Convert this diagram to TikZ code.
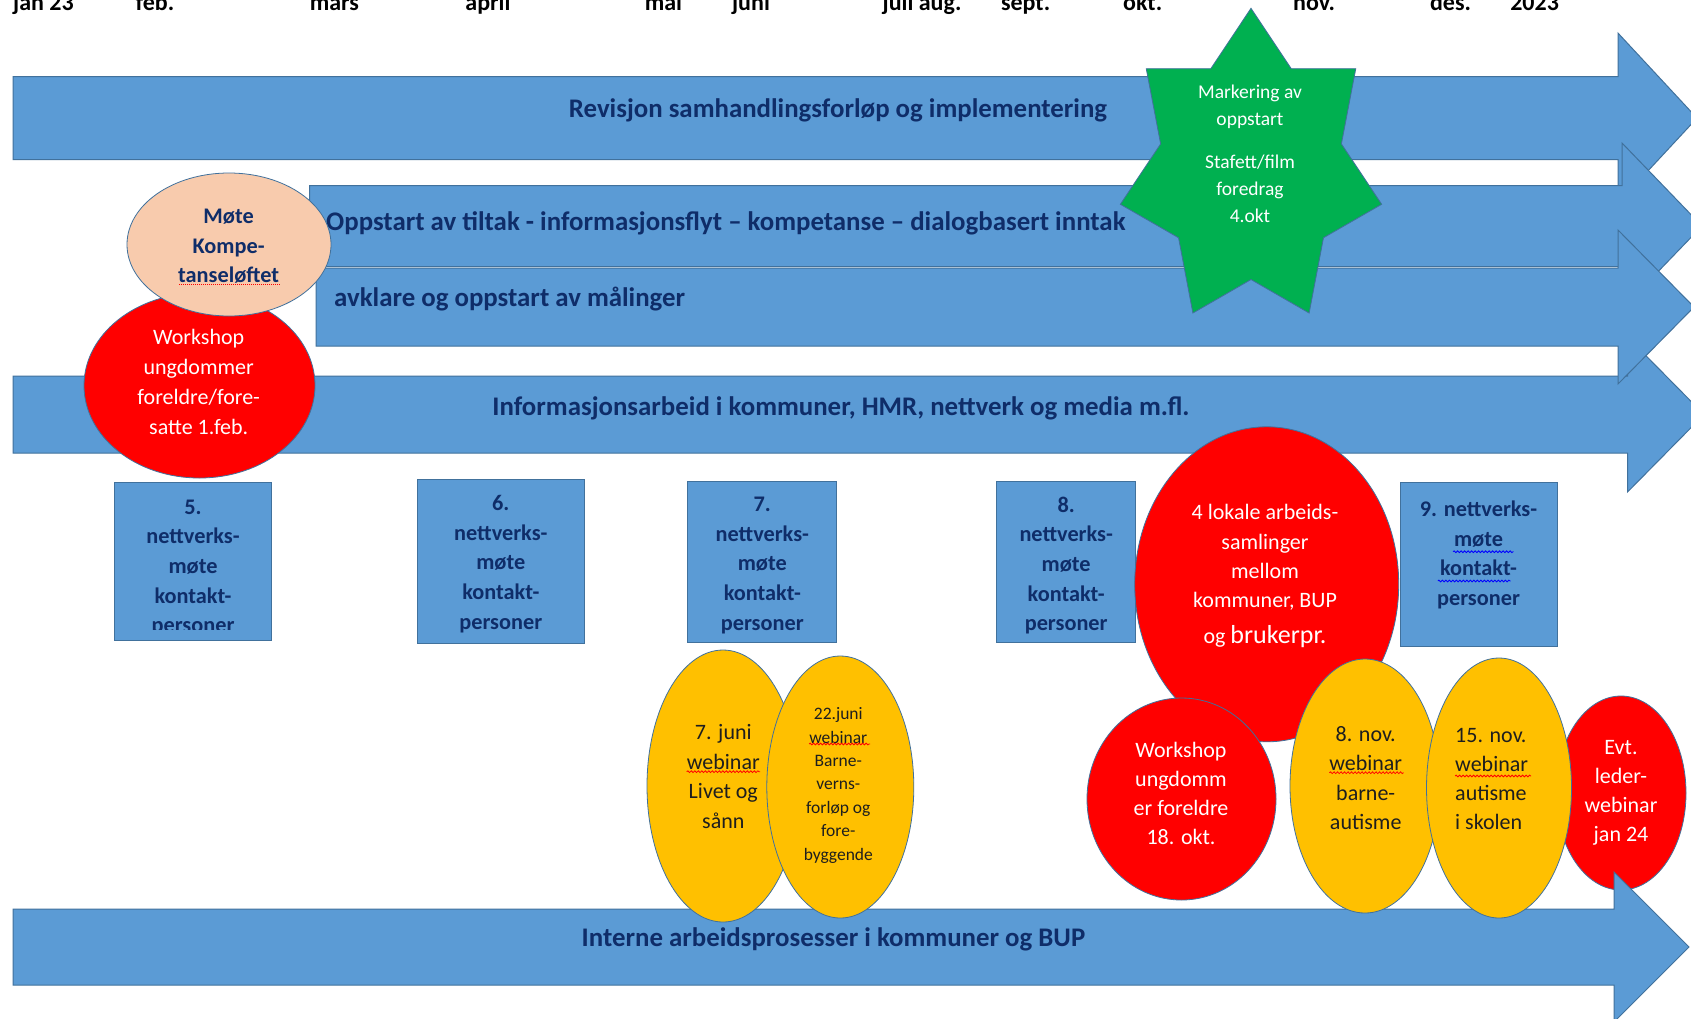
\documentclass[tikz,border=0pt]{standalone}
\usepackage{fontspec}
\setmainfont{Carlito}
\usetikzlibrary{shapes.geometric,decorations.pathmorphing}
\definecolor{abl}{HTML}{5B9BD5}
\definecolor{bdr}{HTML}{41719C}
\definecolor{navy}{HTML}{0F2D69}
\definecolor{peach}{HTML}{F8CBAD}
\definecolor{amber}{HTML}{FFC000}
\definecolor{grn}{HTML}{00B050}
\definecolor{dark}{HTML}{1E1E1E}
\newcommand\bxf[1]{\bfseries\fontsize{22.3}{#1}\selectfont}
\newcommand\rgf[2]{\fontsize{#1}{#2}\selectfont}
\tikzset{
  arr/.style={fill=abl, draw=bdr, line width=1pt, line join=miter},
  arrtxt/.style={text=navy, font=\bfseries\fontsize{26.85}{30}\selectfont, inner sep=0pt},
  bluebox/.style={rectangle, fill=abl, draw=bdr, line width=1pt, inner sep=0pt},
  boxtxt/.style={text=navy, align=center, inner sep=0pt},
  oval/.style={ellipse, draw=bdr, line width=0.8pt, inner sep=0pt},
  redoval/.style={oval, fill=red},
  yeloval/.style={oval, fill=amber},
  wtxt/.style={text=white, align=center, inner sep=0pt},
  dtxt/.style={text=dark, align=center, inner sep=0pt},
  month/.style={font=\bfseries\fontsize{24}{28}\selectfont, anchor=base, inner sep=0pt},
  squig/.style={decorate, decoration={snake, amplitude=0.9pt, segment length=3.5pt}, line width=0.8pt},
}
\begin{document}
\begin{tikzpicture}[x=1pt,y=-1pt]
\fill[white] (0,0) rectangle (1691,1018);
\useasboundingbox (0,0) rectangle (1691,1018);

% month labels
\node[month] (m1) at (43.5,10) {jan 23};
\node[month] (m2) at (155,10) {feb.};
\node[month] (m3) at (334.4,10) {mars};
\node[month] (m4) at (488,10) {april};
\node[month] (m5) at (663.5,10) {mai};
\node[month] (m6) at (751,10) {juni};
\node[month] (m7) at (922,10) {juli aug.};
\node[month] (m8) at (1025.6,10) {sept.};
\node[month] (m9) at (1142.6,10) {okt.};
\node[month] (m10) at (1314,10) {nov.};
\node[month] (m11) at (1450.5,10) {des.};
\node[month] (m12) at (1534.6,10) {2023};

% arrow 1
\draw[arr] (13,76.6) -- (1618,76.6) -- (1618,33.1) -- (1697,118.1) -- (1618,203.1) -- (1618,159.6) -- (13,159.6) -- cycle;
\node[arrtxt, anchor=base] (t1) at (838,117) {Revisjon samhandlingsforløp og implementering};
% arrow 2
\draw[arr] (309.5,185.5) -- (1622,185.5) -- (1622,143) -- (1702,226) -- (1622,309) -- (1622,266.5) -- (309.5,266.5) -- cycle;
\node[arrtxt, anchor=base west] (t2) at (326,230.5) {Oppstart av tiltak - informasjonsflyt – kompetanse – dialogbasert inntak};
% arrow 4 (below arrow 3 in stacking)
\draw[arr] (13,376) -- (1627.5,376) -- (1627.5,337) -- (1704,414.5) -- (1627.5,492) -- (1627.5,453) -- (13,453) -- cycle;
\node[arrtxt, anchor=base] (t4) at (841,415) {Informasjonsarbeid i kommuner, HMR, nettverk og media m.fl.};
% arrow 3
\draw[arr] (316,268) -- (1618,268) -- (1618,230) -- (1694,307) -- (1618,384) -- (1618,346) -- (316,346) -- cycle;
\node[arrtxt, anchor=base west] (t3) at (334,306) {avklare og oppstart av målinger};

% star
\begin{scope}[shift={(1251,168.6)}]
\filldraw[fill=grn, draw=bdr, line width=0.8pt]
 (90:134pt and 160.3pt) -- (64.29:92.7pt and 110.9pt) --
 (38.57:134pt and 160.3pt) -- (12.86:92.7pt and 110.9pt) --
 (-12.86:134pt and 160.3pt) -- (-38.57:92.7pt and 110.9pt) --
 (-64.29:134pt and 160.3pt) -- (-90:92.7pt and 110.9pt) --
 (-115.71:134pt and 160.3pt) -- (-141.43:92.7pt and 110.9pt) --
 (-167.14:134pt and 160.3pt) -- (167.14:92.7pt and 110.9pt) --
 (141.43:134pt and 160.3pt) -- (115.71:92.7pt and 110.9pt) -- cycle;
\end{scope}
\node[wtxt, font=\rgf{19.5}{27}] (star) at (1250,153.5) {Markering av\\oppstart\\[16pt]Stafett/film\\foredrag\\4.okt};

% workshop feb and peach ellipse
\node[redoval, minimum width=231pt, minimum height=185pt] (wfeb) at (199.5,385.5) {};
\node[wtxt, font=\rgf{22}{29.8}] (wfebt) at (198.7,382) {Workshop\\ungdommer\\foreldre/fore-\\satte 1.feb.};
\node[oval, fill=peach, minimum width=204pt, minimum height=143pt] (mote) at (229,244.5) {};
\node[boxtxt, font=\bxf{29.5}] (motet) at (228.6,246.5) {Møte\\Kompe-\\tanseløftet};
\draw[red, densely dotted, line width=1pt] (179,284) -- (280,284);

% boxes
\node[bluebox, minimum width=157pt, minimum height=157.3pt] (b5) at (193,561.35) {};
\begin{scope}
\clip (114.5,482.7) rectangle (271.5,629);
\node[boxtxt, font=\bxf{29.6}] (b5t) at (193,568) {5.\\nettverks-\\møte\\kontakt-\\personer};
\end{scope}
\node[bluebox, minimum width=166.4pt, minimum height=164pt] (b6) at (500.8,561) {};
\node[boxtxt, font=\bxf{29.7}] (b6t) at (500.8,564) {6.\\nettverks-\\møte\\kontakt-\\personer};
\node[bluebox, minimum width=149.3pt, minimum height=161pt] (b7) at (762.3,562.2) {};
\node[boxtxt, font=\bxf{29.7}] (b7t) at (762.3,565.5) {7.\\nettverks-\\møte\\kontakt-\\personer};
\node[bluebox, minimum width=139pt, minimum height=161pt] (b8) at (1066.2,562.2) {};
\node[boxtxt, font=\bxf{29.7}] (b8t) at (1066.2,565.5) {8.\\nettverks-\\møte\\kontakt-\\personer};
\node[bluebox, minimum width=157pt, minimum height=163.3pt] (b9) at (1478.5,564.35) {};
\node[boxtxt, font=\bxf{29.4}] (b9t) at (1478.5,555) {9. nettverks-\\møte\\kontakt-\\personer};
\draw[blue, squig] (1453,551.7) -- (1513.7,551.7);
\draw[blue, squig] (1437.8,581) -- (1510.6,581);

% red ellipses right
\node[redoval, minimum width=264pt, minimum height=315pt] (lok) at (1266.7,584.3) {};
\node[wtxt, font=\rgf{22}{29.3}] (lokt) at (1265,576) {4 lokale arbeids-\\samlinger\\mellom\\kommuner, BUP\\[6pt]og {\rgf{26}{30}brukerpr.}};
\node[redoval, minimum width=189pt, minimum height=202pt] (wokt) at (1181.5,799) {};
\node[wtxt, font=\rgf{22}{29}] (wokt) at (1181,793.5) {Workshop\\ungdomm\\er foreldre\\18. okt.};
\node[redoval, minimum width=130pt, minimum height=194pt] (evt) at (1621,793) {};
\node[wtxt, font=\rgf{22}{29}] (evtt) at (1621,793) {Evt.\\leder-\\webinar\\jan 24};

% arrow 5
\draw[arr] (13,909) -- (1614,909) -- (1614,872) -- (1689,947) -- (1614,1022) -- (1614,985) -- (13,985) -- cycle;
\node[arrtxt, anchor=base] (t5) at (833.5,946) {Interne arbeidsprosesser i kommuner og BUP};

% yellow ellipses
\node[yeloval, minimum width=152pt, minimum height=272pt] (j7) at (723,786) {};
\node[dtxt, font=\rgf{22}{29.5}] (j7t) at (723.3,776.5) {7. juni\\webinar\\Livet og\\sånn};
\draw[red, squig] (686.7,771.7) -- (760,771.7);
\node[yeloval, minimum width=147pt, minimum height=262pt] (j22) at (840.3,787) {};
\node[dtxt, font=\rgf{17.5}{23.4}] (j22t) at (838.3,785.3) {22.juni\\webinar\\Barne-\\verns-\\forløp og\\fore-\\byggende};
\draw[red, squig] (809,744) -- (870,744);
\node[yeloval, minimum width=150pt, minimum height=254pt] (n8) at (1365,786) {};
\node[dtxt, font=\rgf{22}{29.5}] (n8t) at (1365.7,778) {8. nov.\\webinar\\barne-\\autisme};
\draw[red, squig] (1329.4,772.7) -- (1403.5,772.7);
\node[yeloval, minimum width=145pt, minimum height=260pt] (n15) at (1499,788) {};
\node[dtxt, align=left, anchor=west, font=\rgf{22}{29}] (n15t) at (1455,778.5) {15. nov.\\webinar\\autisme\\i skolen};
\draw[red, squig] (1455,776) -- (1531,776);
\end{tikzpicture}
\end{document}
